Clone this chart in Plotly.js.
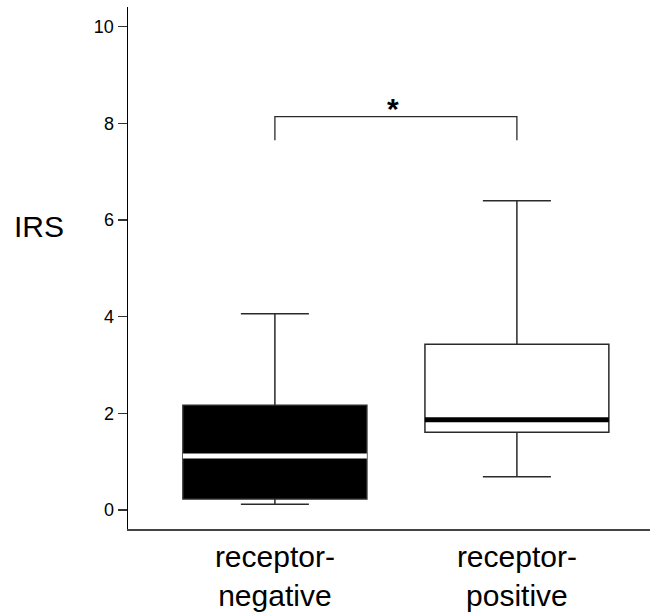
<!DOCTYPE html>
<html>
<head>
<meta charset="utf-8">
<script src="https://cdn.plot.ly/plotly-3.0.1.min.js"></script>
<style>html,body{margin:0;padding:0;background:#fff;}#chart{width:654px;height:613px;}</style>
</head>
<body>
<div id="chart"></div>
<script>
// ---- data ----
var categories = ["receptor-<br>negative", "receptor-<br>positive"];
var lowerWhisker = [0.12, 0.69];
var q1Values = [0.23, 1.61];
var medianValues = [1.12, 1.87];
var q3Values = [2.17, 3.43];
var upperWhisker = [4.06, 6.40];
var bracketLevels = [7.65, 8.14]; // bracket leg bottom, bracket top
var significanceLabel = "*";
var yTickValues = [0, 2, 4, 6, 8, 10];
var yLabel = "IRS";

// ---- style ----
var boxWidth = 0.76;
var fills = ["#000000", "#ffffff"];
var medianColors = ["#ffffff", "#000000"];
var font = "Liberation Sans, Arial, Helvetica, sans-serif";

var traces = [];
for (var i = 0; i < categories.length; i++) {
  traces.push({
    type: "box",
    x: [i],
    q1: [q1Values[i]],
    median: [medianValues[i]],
    q3: [q3Values[i]],
    lowerfence: [lowerWhisker[i]],
    upperfence: [upperWhisker[i]],
    width: boxWidth,
    whiskerwidth: 0.37,
    fillcolor: fills[i],
    line: {color: "#2a2a2a", width: 1.5},
    boxpoints: false,
    hoverinfo: "skip",
    showlegend: false
  });
}
for (var j = 0; j < categories.length; j++) {
  traces.push({
    type: "scatter",
    mode: "lines",
    x: [j - boxWidth / 2, j + boxWidth / 2],
    y: [medianValues[j], medianValues[j]],
    line: {color: medianColors[j], width: 5},
    hoverinfo: "skip",
    showlegend: false
  });
}
// significance bracket
traces.push({
  type: "scatter",
  mode: "lines",
  x: [0, 0, 1, 1],
  y: [bracketLevels[0], bracketLevels[1], bracketLevels[1], bracketLevels[0]],
  line: {color: "#2a2a2a", width: 1.3},
  hoverinfo: "skip",
  showlegend: false
});

var layout = {
  width: 654,
  height: 613,
  margin: {l: 128, r: 4, t: 7, b: 84},
  paper_bgcolor: "#ffffff",
  plot_bgcolor: "#ffffff",
  showlegend: false,
  font: {family: font, color: "#000"},
  xaxis: {
    range: [-0.607, 1.55],
    tickmode: "array",
    tickvals: [0, 1],
    ticktext: categories,
    ticks: "",
    showgrid: false,
    zeroline: false,
    showline: true,
    linecolor: "#444",
    linewidth: 1.5,
    tickfont: {size: 30, family: font, color: "#000"},
    fixedrange: true
  },
  yaxis: {
    range: [-0.393, 10.41],
    tickmode: "array",
    tickvals: yTickValues,
    ticks: "outside",
    ticklen: 9,
    tickwidth: 1.3,
    tickcolor: "#333",
    showgrid: false,
    zeroline: false,
    showline: true,
    linecolor: "#000",
    linewidth: 1.5,
    tickfont: {size: 18, family: font, color: "#000"},
    fixedrange: true
  },
  annotations: [
    {
      text: "<b>" + significanceLabel + "</b>",
      x: 0.49, y: bracketLevels[1],
      xref: "x", yref: "y",
      xanchor: "center", yanchor: "middle",
      showarrow: false,
      yshift: 8,
      font: {size: 30, family: font, color: "#000"}
    },
    {
      text: yLabel,
      xref: "paper", yref: "paper",
      x: 0, y: 0.58,
      xanchor: "right", yanchor: "middle",
      xshift: -62,
      showarrow: false,
      font: {size: 30, family: font, color: "#000"}
    }
  ]
};

Plotly.newPlot("chart", traces, layout, {displayModeBar: false, staticPlot: true});
</script>
</body>
</html>
